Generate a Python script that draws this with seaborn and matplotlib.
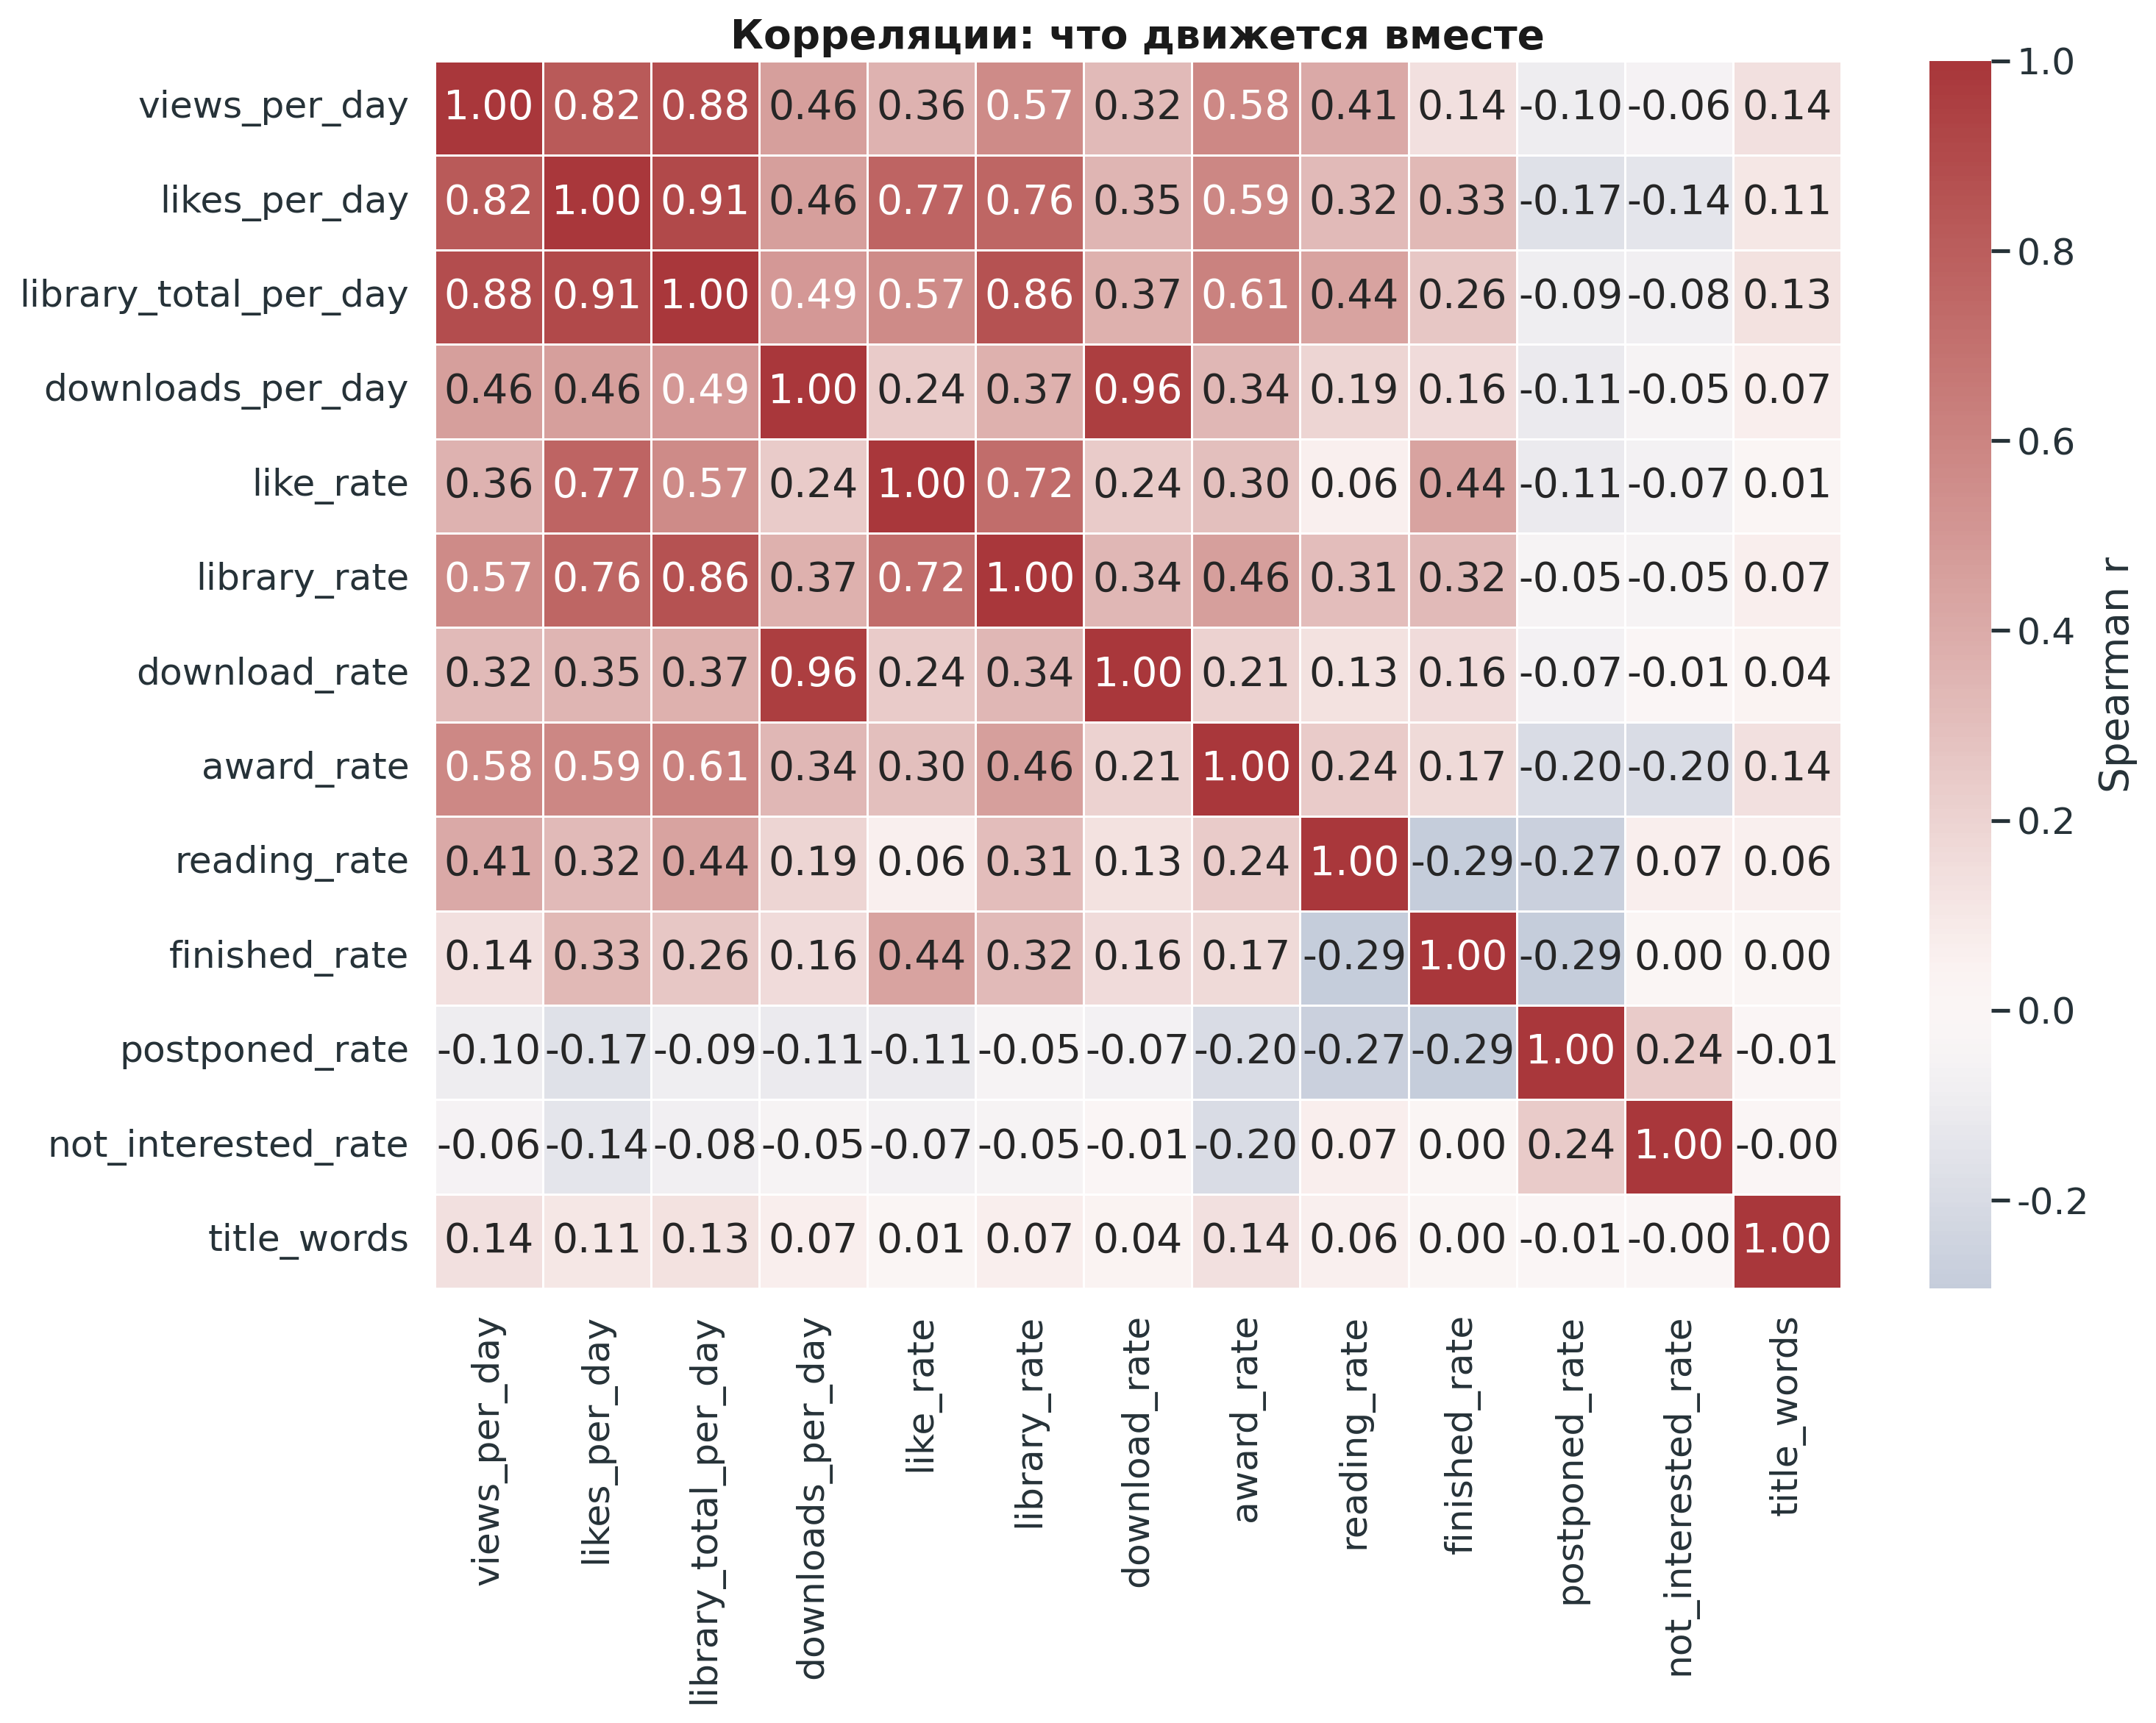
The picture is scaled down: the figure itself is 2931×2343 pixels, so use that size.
import numpy as np
import pandas as pd
import matplotlib
matplotlib.use("Agg")
import matplotlib.pyplot as plt
import seaborn as sns

# feature names (rows == columns)
features = [
    "views_per_day", "likes_per_day", "library_total_per_day", "downloads_per_day",
    "like_rate", "library_rate", "download_rate", "award_rate", "reading_rate",
    "finished_rate", "postponed_rate", "not_interested_rate", "title_words",
]

# Spearman correlations
r_views_per_day = [1.00, 0.82, 0.88, 0.46, 0.36, 0.57, 0.32, 0.58, 0.41, 0.14, -0.10, -0.06, 0.14]
r_likes_per_day = [0.82, 1.00, 0.91, 0.46, 0.77, 0.76, 0.35, 0.59, 0.32, 0.33, -0.17, -0.14, 0.11]
r_library_total = [0.88, 0.91, 1.00, 0.49, 0.57, 0.86, 0.37, 0.61, 0.44, 0.26, -0.09, -0.08, 0.13]
r_downloads_per_day = [0.46, 0.46, 0.49, 1.00, 0.24, 0.37, 0.96, 0.34, 0.19, 0.16, -0.11, -0.05, 0.07]
r_like_rate = [0.36, 0.77, 0.57, 0.24, 1.00, 0.72, 0.24, 0.30, 0.06, 0.44, -0.11, -0.07, 0.01]
r_library_rate = [0.57, 0.76, 0.86, 0.37, 0.72, 1.00, 0.34, 0.46, 0.31, 0.32, -0.05, -0.05, 0.07]
r_download_rate = [0.32, 0.35, 0.37, 0.96, 0.24, 0.34, 1.00, 0.21, 0.13, 0.16, -0.07, -0.01, 0.04]
r_award_rate = [0.58, 0.59, 0.61, 0.34, 0.30, 0.46, 0.21, 1.00, 0.24, 0.17, -0.20, -0.20, 0.14]
r_reading_rate = [0.41, 0.32, 0.44, 0.19, 0.06, 0.31, 0.13, 0.24, 1.00, -0.293, -0.27, 0.07, 0.06]
r_finished_rate = [0.14, 0.33, 0.26, 0.16, 0.44, 0.32, 0.16, 0.17, -0.293, 1.00, -0.29, 0.00, 0.00]
r_postponed_rate = [-0.10, -0.17, -0.09, -0.11, -0.11, -0.05, -0.07, -0.20, -0.27, -0.29, 1.00, 0.24, -0.01]
r_not_interested = [-0.06, -0.14, -0.08, -0.05, -0.07, -0.05, -0.01, -0.20, 0.07, 0.00, 0.24, 1.00, -0.001]
r_title_words = [0.14, 0.11, 0.13, 0.07, 0.01, 0.07, 0.04, 0.14, 0.06, 0.00, -0.01, -0.001, 1.00]

corr = pd.DataFrame(
    [r_views_per_day, r_likes_per_day, r_library_total, r_downloads_per_day,
     r_like_rate, r_library_rate, r_download_rate, r_award_rate, r_reading_rate,
     r_finished_rate, r_postponed_rate, r_not_interested, r_title_words],
    index=features, columns=features,
)

sns.set_theme(style="white", context="talk", font_scale=1.1)
plt.rcParams["font.family"] = ["DejaVu Sans"]
plt.rcParams["axes.unicode_minus"] = False
label_color = "#263238"
plt.rcParams["xtick.color"] = label_color
plt.rcParams["ytick.color"] = label_color
plt.rcParams["xtick.labelcolor"] = label_color
plt.rcParams["ytick.labelcolor"] = label_color
plt.rcParams["axes.labelcolor"] = label_color

fig = plt.figure(figsize=(2931 / 200, 2343 / 200), dpi=200)
ax = fig.add_axes([0.2016, 0.2522, 0.6523, 0.7124])
cax = fig.add_axes([0.8949, 0.2522, 0.0287, 0.7124])

sns.heatmap(
    corr, ax=ax, cbar_ax=cax, cmap="vlag", center=0, vmax=1,
    annot=True, fmt=".2f", linewidths=0.5, linecolor="white",
    cbar_kws={"label": "Spearman r"},
)
ax.set_title("Корреляции: что движется вместе", fontweight="bold", color="#1a1a1a")
ax.tick_params(axis="x", rotation=90)
ax.tick_params(axis="y", rotation=0)

fig.savefig("out.png", dpi=200)
